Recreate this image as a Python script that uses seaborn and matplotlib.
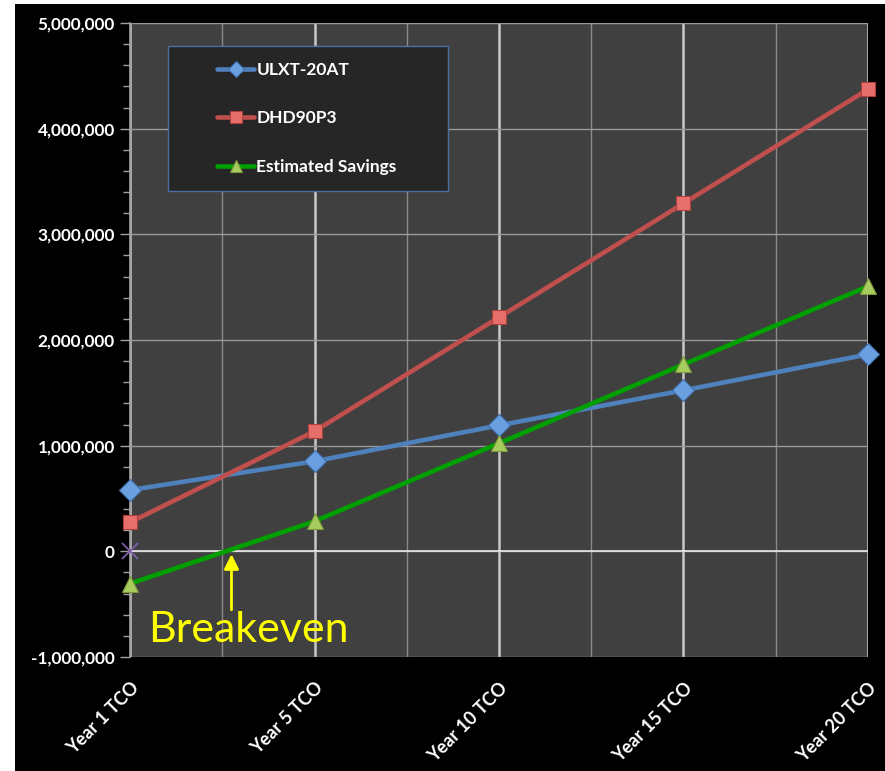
import pandas as pd
import matplotlib.pyplot as plt
import seaborn as sns
from matplotlib.patches import Rectangle
from matplotlib.ticker import MultipleLocator, FuncFormatter

# ===== DATA =====
periods = ['Year 1 TCO', 'Year 5 TCO', 'Year 10 TCO', 'Year 15 TCO', 'Year 20 TCO']
ulxt = [580000, 852000, 1192000, 1524000, 1864000]
dhd = [274000, 1136000, 2215000, 3293000, 4372000]
savings = [-306000, 284000, 1023000, 1769000, 2508000]
zero_mark = [0]

df = pd.DataFrame({'pos': range(len(periods)), 'ULXT-20AT': ulxt,
                   'DHD90P3': dhd, 'Estimated Savings': savings})

# ===== STYLE =====
sns.set_style('dark')
plt.rcParams['font.family'] = ['Lato', 'DejaVu Sans']

W, H = 885, 771
fig = plt.figure(figsize=(W / 100, H / 100), dpi=100, facecolor='white')
fig.patches.append(Rectangle((15 / W, 0), 870 / W, 767 / H, transform=fig.transFigure,
                             facecolor='black', edgecolor='none', zorder=-1))
# plot area in pixels: x 130..868, y 23..657
L, R, T, B = 130, 868, 23, 657
ax = fig.add_axes([L / W, 1 - B / H, (R - L) / W, (B - T) / H])
ax.set_facecolor('#404040')

series = [
    ('ULXT-20AT', '#4f81bd', 'D', '#6a9fe0', '#3f6fae', 11),
    ('DHD90P3', '#c0504d', 's', '#e66e6b', '#b0403d', 10),
    ('Estimated Savings', '#00a000', '^', '#a9cc5f', '#7d9a3c', 12),
]
for name, col, mk, mfc, mec, ms in series:
    sns.lineplot(data=df, x='pos', y=name, ax=ax, color=col, linewidth=3.3,
                 marker=mk, markersize=ms, markerfacecolor=mfc, markeredgecolor=mec,
                 markeredgewidth=0.8, label=name, zorder=4, clip_on=False)

# lone marker at origin
ax.plot([0] * len(zero_mark), zero_mark, marker='x', color='#7e5ea8', markersize=11,
        markeredgewidth=1.3, linestyle='none', zorder=7, clip_on=False)

# ===== AXES =====
ax.set_xlim(0, len(periods) - 1)
ax.set_ylim(-1000000, 5000000)
ax.yaxis.set_major_locator(MultipleLocator(1000000))
ax.yaxis.set_minor_locator(MultipleLocator(200000))
ax.yaxis.set_major_formatter(FuncFormatter(lambda v, p: f'{int(v):,}'))
ax.set_xticks(range(len(periods)))
ax.set_xticks([i + 0.5 for i in range(len(periods) - 1)], minor=True)
ax.set_xticklabels(periods, rotation=45, ha='right', rotation_mode='anchor',
                   color='white', fontweight='bold', fontsize=13)
for lab in ax.get_yticklabels():
    lab.set_color('white')
    lab.set_fontweight('bold')
    lab.set_fontsize(12.4)
ax.set_xlabel('')
ax.set_ylabel('')

ax.tick_params(axis='y', which='both', direction='out', color='#a0a0a0', left=True)
ax.tick_params(axis='y', which='major', length=7, width=1, pad=4)
ax.tick_params(axis='y', which='minor', length=5, width=1)
ax.tick_params(axis='x', which='both', length=0, pad=16)

ax.grid(False)
ax.grid(axis='x', which='major', color='#c8c8c8', linewidth=1.8)
ax.grid(axis='x', which='minor', color='#8a8a8a', linewidth=1)
ax.grid(axis='y', which='major', color='#9a9a9a', linewidth=1)
ax.axhline(0, color='#e8e8e8', linewidth=1.2, zorder=1)
for side in ['top', 'right', 'bottom']:
    ax.spines[side].set_visible(False)
ax.spines['left'].set_color('#a0a0a0')
ax.spines['left'].set_linewidth(1.2)

# ===== LEGEND =====
ax.add_patch(Rectangle(((168 - L) / (R - L), (B - 191) / (B - T)), 280 / (R - L), 145 / (B - T),
                       transform=ax.transAxes, facecolor='#262626', edgecolor='#4a6fa5',
                       linewidth=1, zorder=5))
leg = ax.legend(loc='upper left', bbox_to_anchor=((217 - L) / (R - L), (B - 62) / (B - T)),
                frameon=False, labelspacing=1.87, handlelength=2.15, handletextpad=0.12,
                borderpad=0, borderaxespad=0, prop={'weight': 'bold', 'size': 12.5})
leg.set_zorder(6)
for t in leg.get_texts():
    t.set_color('white')
for h in leg.legend_handles:
    h.set_markersize(8)

# ===== BREAKEVEN =====
ax.annotate('', xy=(0.55, 0), xytext=(0.55, -580000),
            arrowprops=dict(arrowstyle='-|>', color='yellow', lw=2, mutation_scale=22))
ax.text(0.1, -740000, 'Breakeven', color='yellow', fontsize=31, ha='left', va='center')

fig.savefig('out.png', dpi=100, facecolor='white')
